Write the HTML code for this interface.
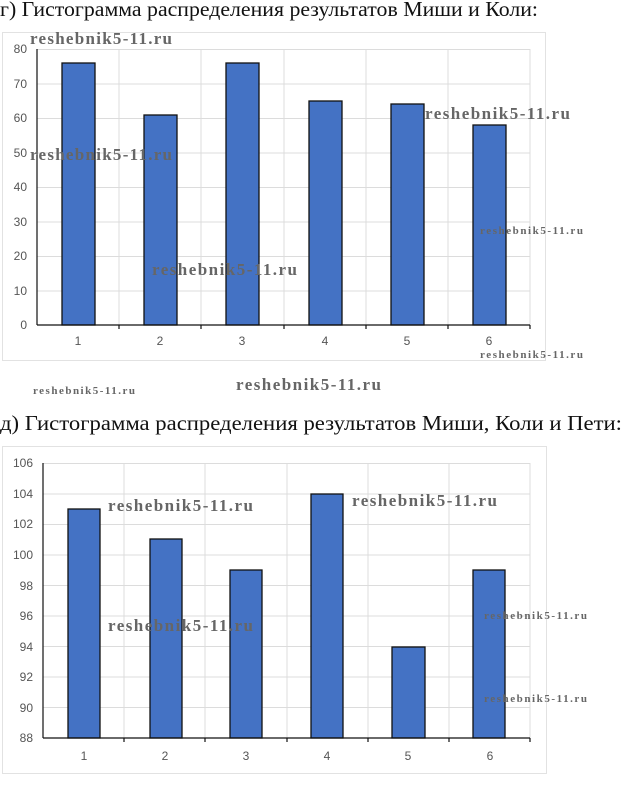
<!DOCTYPE html>
<html><head><meta charset="utf-8"><style>
html,body{margin:0;padding:0;background:#fff;}
svg{display:block}
</style></head><body>
<svg width="623" height="808" xmlns="http://www.w3.org/2000/svg" font-family="Liberation Sans, sans-serif">
<rect width="623" height="808" fill="#fff"/>
<text x="0" y="16" font-family="Liberation Serif, serif" font-size="21" fill="#111" textLength="538" lengthAdjust="spacingAndGlyphs">г) Гистограмма распределения результатов Миши и Коли:</text>
<rect x="2.5" y="32.5" width="543" height="328" fill="#fff" stroke="#e2e2e2"/>
<g stroke="#dcdcdc" stroke-width="1">
<line x1="37" y1="49.5" x2="530" y2="49.5"/><line x1="37" y1="84" x2="530" y2="84"/><line x1="37" y1="118.5" x2="530" y2="118.5"/><line x1="37" y1="153" x2="530" y2="153"/><line x1="37" y1="187.5" x2="530" y2="187.5"/><line x1="37" y1="222" x2="530" y2="222"/><line x1="37" y1="256.5" x2="530" y2="256.5"/><line x1="37" y1="291" x2="530" y2="291"/>
<line x1="119" y1="49" x2="119" y2="325"/><line x1="201" y1="49" x2="201" y2="325"/><line x1="284" y1="49" x2="284" y2="325"/><line x1="366" y1="49" x2="366" y2="325"/><line x1="448" y1="49" x2="448" y2="325"/><line x1="530" y1="49" x2="530" y2="325"/>
</g>
<g fill="#4472c4" stroke="#111" stroke-width="1.3">
<rect x="62" y="63" width="33" height="262"/><rect x="144" y="115" width="33" height="210"/><rect x="226" y="63" width="33" height="262"/><rect x="309" y="101" width="33" height="224"/><rect x="391" y="104" width="33" height="221"/><rect x="473" y="125" width="33" height="200"/>
</g>
<g stroke="#111" stroke-width="1.2"><line x1="37" y1="49" x2="37" y2="325"/><line x1="37" y1="325" x2="530" y2="325"/>
<line x1="119" y1="325" x2="119" y2="329"/><line x1="201" y1="325" x2="201" y2="329"/><line x1="284" y1="325" x2="284" y2="329"/><line x1="366" y1="325" x2="366" y2="329"/><line x1="448" y1="325" x2="448" y2="329"/><line x1="530" y1="325" x2="530" y2="329"/></g>
<g font-size="12" fill="#555" text-anchor="end">
<text x="27" y="53">80</text><text x="27" y="88">70</text><text x="27" y="122">60</text><text x="27" y="157">50</text><text x="27" y="191">40</text><text x="27" y="226">30</text><text x="27" y="260">20</text><text x="27" y="295">10</text><text x="27" y="329">0</text>
</g>
<g font-size="12" fill="#555" text-anchor="middle">
<text x="78" y="345">1</text><text x="160" y="345">2</text><text x="242" y="345">3</text><text x="325" y="345">4</text><text x="407" y="345">5</text><text x="489" y="345">6</text>
</g>
<g font-family="Liberation Serif, serif" font-weight="bold" fill="#666" lengthAdjust="spacingAndGlyphs">
<text x="30" y="44" font-size="17" textLength="142">reshebnik5-11.ru</text>
<text x="30" y="160" font-size="17" textLength="142">reshebnik5-11.ru</text>
<text x="425" y="119" font-size="17" textLength="145">reshebnik5-11.ru</text>
<text x="152" y="275" font-size="17" textLength="145">reshebnik5-11.ru</text>
<text x="480" y="234" font-size="11" textLength="103">reshebnik5-11.ru</text>
<text x="480" y="358" font-size="11" textLength="103">reshebnik5-11.ru</text>
<text x="33" y="394" font-size="11" textLength="102">reshebnik5-11.ru</text>
<text x="236" y="390" font-size="17" textLength="145">reshebnik5-11.ru</text>
</g>
<text x="0" y="430" font-family="Liberation Serif, serif" font-size="21" fill="#111" textLength="622" lengthAdjust="spacingAndGlyphs">д) Гистограмма распределения результатов Миши, Коли и Пети:</text>
<rect x="2.5" y="446.5" width="544" height="327" fill="#fff" stroke="#e2e2e2"/>
<g stroke="#dcdcdc" stroke-width="1">
<line x1="43" y1="463.5" x2="530" y2="463.5"/><line x1="43" y1="494" x2="530" y2="494"/><line x1="43" y1="524.5" x2="530" y2="524.5"/><line x1="43" y1="555" x2="530" y2="555"/><line x1="43" y1="585.5" x2="530" y2="585.5"/><line x1="43" y1="616" x2="530" y2="616"/><line x1="43" y1="646.5" x2="530" y2="646.5"/><line x1="43" y1="677" x2="530" y2="677"/><line x1="43" y1="707.5" x2="530" y2="707.5"/>
<line x1="124" y1="463" x2="124" y2="738"/><line x1="205" y1="463" x2="205" y2="738"/><line x1="287" y1="463" x2="287" y2="738"/><line x1="368" y1="463" x2="368" y2="738"/><line x1="449" y1="463" x2="449" y2="738"/><line x1="530" y1="463" x2="530" y2="738"/>
</g>
<g fill="#4472c4" stroke="#111" stroke-width="1.3">
<rect x="68" y="509" width="32" height="229"/><rect x="150" y="539" width="32" height="199"/><rect x="230" y="570" width="32" height="168"/><rect x="311" y="494" width="32" height="244"/><rect x="392" y="647" width="33" height="91"/><rect x="473" y="570" width="32" height="168"/>
</g>
<g stroke="#111" stroke-width="1.2"><line x1="43" y1="463" x2="43" y2="738"/><line x1="43" y1="738" x2="530" y2="738"/>
<line x1="124" y1="738" x2="124" y2="742"/><line x1="205" y1="738" x2="205" y2="742"/><line x1="287" y1="738" x2="287" y2="742"/><line x1="368" y1="738" x2="368" y2="742"/><line x1="449" y1="738" x2="449" y2="742"/><line x1="530" y1="738" x2="530" y2="742"/></g>
<g font-size="12" fill="#555" text-anchor="end">
<text x="33" y="467">106</text><text x="33" y="498">104</text><text x="33" y="528">102</text><text x="33" y="559">100</text><text x="33" y="590">98</text><text x="33" y="620">96</text><text x="33" y="651">94</text><text x="33" y="681">92</text><text x="33" y="712">90</text><text x="33" y="742">88</text>
</g>
<g font-size="12" fill="#555" text-anchor="middle">
<text x="84" y="760">1</text><text x="165" y="760">2</text><text x="246" y="760">3</text><text x="327" y="760">4</text><text x="408" y="760">5</text><text x="490" y="760">6</text>
</g>
<g font-family="Liberation Serif, serif" font-weight="bold" fill="#666" lengthAdjust="spacingAndGlyphs">
<text x="108" y="511" font-size="17" textLength="145">reshebnik5-11.ru</text>
<text x="352" y="506" font-size="17" textLength="145">reshebnik5-11.ru</text>
<text x="108" y="631" font-size="17" textLength="145">reshebnik5-11.ru</text>
<text x="484" y="619" font-size="11" textLength="103">reshebnik5-11.ru</text>
<text x="484" y="702" font-size="11" textLength="103">reshebnik5-11.ru</text>
</g>
</svg>
</body></html>
